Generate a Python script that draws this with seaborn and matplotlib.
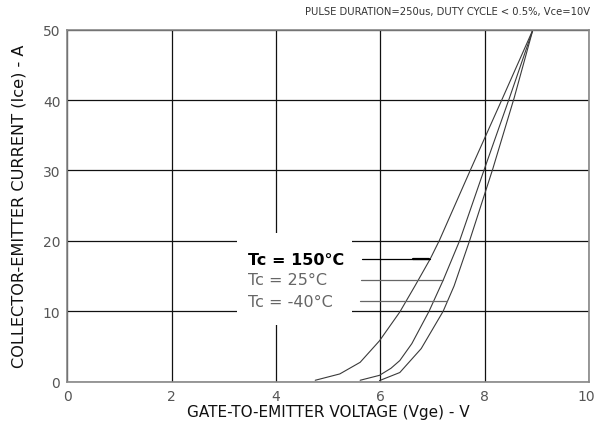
import matplotlib
matplotlib.use("Agg")
import matplotlib.pyplot as plt
import seaborn as sns
import pandas as pd

sns.set_theme(style="white")
plt.rcParams['font.family'] = ['Liberation Sans Narrow', 'DejaVu Sans']

# Data
vge_150 = [4.75, 5.22, 5.61, 5.98, 6.37, 6.66, 6.95, 7.13, 7.73, 8.34, 8.92]
ice_150 = [0.2, 1.1, 2.75, 5.8, 9.9, 13.6, 17.4, 20.1, 30.2, 40.3, 50.0]
vge_25 = [5.61, 5.98, 6.2, 6.37, 6.6, 6.93, 7.2, 7.52, 7.99, 8.47, 8.92]
ice_25 = [0.2, 0.9, 1.9, 3.0, 5.4, 10.0, 14.4, 20.1, 30.2, 40.3, 50.0]
vge_m40 = [5.98, 6.37, 6.78, 7.2, 7.41, 7.71, 8.15, 8.56, 8.92]
ice_m40 = [0.15, 1.3, 4.7, 10.0, 13.6, 20.1, 30.2, 40.3, 50.0]

labels = ["Tc = 150°C", "Tc = 25°C", "Tc = -40°C"]
label_y = [17.4, 14.5, 11.4]
label_start_x = [5.64, 5.62, 5.60]
label_end_x = [6.95, 7.19, 7.27]
x_ticks = [0, 2, 4, 6, 8, 10]
y_ticks = [0, 10, 20, 30, 40, 50]

fig = plt.figure(figsize=(5.97, 4.27), dpi=100)
ax = fig.add_axes([0.1127, 0.1038, 0.9871 - 0.1127, 0.9281 - 0.1038])

curves = [(vge_150, ice_150), (vge_25, ice_25), (vge_m40, ice_m40)]
for xs, ys in curves:
    df = pd.DataFrame({"x": xs, "y": ys})
    sns.lineplot(data=df, x="x", y="y", ax=ax, color="#3a3a3a", lw=0.8,
                 sort=False, estimator=None)

ax.set_xlim(0, 10)
ax.set_ylim(0, 50)
ax.set_xticks(x_ticks)
ax.set_yticks(y_ticks)
ax.grid(True, color="#111111", lw=0.9)
ax.set_axisbelow(True)
for s in ax.spines.values():
    s.set_color("#888888")
    s.set_linewidth(1.2)
ax.tick_params(length=0, labelsize=10, labelcolor="#555555", pad=5)
ax.get_xticklabels()[-1].set_horizontalalignment("right")
ax.get_xticklabels()[-1].set_x(10)
import matplotlib.transforms as mtransforms
lbl = ax.get_xticklabels()[-1]
lbl.set_transform(lbl.get_transform() + mtransforms.ScaledTranslation(6 / 100, 0, fig.dpi_scale_trans))

ax.set_xlabel("GATE-TO-EMITTER VOLTAGE (Vge) - V", fontsize=11, color="#111111", labelpad=1)
ax.set_ylabel("COLLECTOR-EMITTER CURRENT (Ice) - A", fontsize=11.6, color="#111111", labelpad=12)
fig.text(0.988, 0.971, "PULSE DURATION=250us, DUTY CYCLE < 0.5%, Vce=10V",
         ha="right", va="center", fontsize=7.2, color="#333333")

# white legend area (breaks the grid lines)
ax.fill_between([3.26, 5.45], 8.05, 21.1, color="white", zorder=1.5, lw=0)
for i, (lab, yv, xs0, xe) in enumerate(zip(labels, label_y, label_start_x, label_end_x)):
    col = "#000000" if i == 0 else "#666666"
    ax.text(3.47, yv, lab, fontsize=11.5, color=col, va="center", ha="left", zorder=3,
            fontweight="bold" if i == 0 else "normal")
    ax.plot([xs0, xe], [yv, yv], color=col, lw=0.9, zorder=3)
ax.plot([6.62, 6.93], [label_y[0], label_y[0]], color="#000000", lw=1.6, zorder=3)

fig.savefig("out.png", dpi=100)
